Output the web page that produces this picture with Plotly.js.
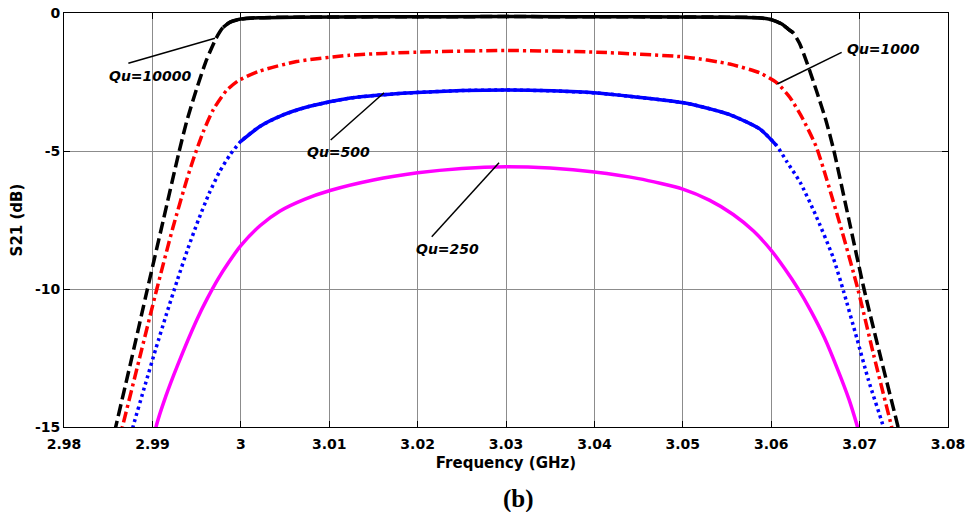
<!DOCTYPE html>
<html>
<head>
<meta charset="utf-8">
<script src="https://cdn.plot.ly/plotly-3.0.1.min.js"></script>
<style>html,body{margin:0;padding:0;background:#fff;}#chart{width:968px;height:512px;}</style>
</head>
<body>
<div id="chart"></div>
<script>
// ---- data ----
const xTickVals = [2.98, 2.99, 3.00, 3.01, 3.02, 3.03, 3.04, 3.05, 3.06, 3.07, 3.08];
const xTickText = ["2.98", "2.99", "3", "3.01", "3.02", "3.03", "3.04", "3.05", "3.06", "3.07", "3.08"];
const yTickVals = [-15, -10, -5, 0];
const yTickText = ["-15", "-10", "-5", "0"];

const qu10000X = [2.9853, 2.98585, 2.9877, 2.9894, 2.9912, 2.9930, 2.9939, 2.9950, 2.9961, 2.9972, 2.9980, 2.9988, 3.0000, 3.0020, 3.0060, 3.0150, 3.0300, 3.0450, 3.0550, 3.0585, 3.0600, 3.0612, 3.0620, 3.0625, 3.0632, 3.0641, 3.0651, 3.0662, 3.0671, 3.0688, 3.0705, 3.0724, 3.07435, 3.0749];
const qu10000Y = [-15.8, -15.0, -12.45, -10.05, -7.55, -5.05, -3.9, -2.75, -1.72, -0.92, -0.52, -0.33, -0.22, -0.17, -0.15, -0.14, -0.13, -0.14, -0.15, -0.17, -0.24, -0.40, -0.60, -0.72, -1.1, -1.85, -2.8, -3.9, -5.0, -7.5, -10.0, -12.5, -15.0, -15.8];

const qu1000X = [2.9861, 2.9866, 2.98855, 2.9905, 2.9923, 2.99388, 2.99463, 2.99576, 2.99689, 2.9984, 2.99972, 3.00217, 3.00632, 3.0123, 3.0199, 3.0301, 3.0403, 3.0504, 3.0553, 3.0587, 3.0606, 3.0621, 3.0636, 3.0651, 3.0663, 3.0680, 3.0698, 3.0716, 3.07363, 3.0741];
const qu1000Y = [-15.6, -15.0, -12.5, -10.0, -7.8, -6.05, -5.3, -4.3, -3.5, -2.8, -2.45, -2.1, -1.76, -1.53, -1.42, -1.36, -1.42, -1.6, -1.85, -2.17, -2.52, -3.05, -3.85, -4.85, -6.05, -7.9, -10.0, -12.4, -15.0, -15.6];

const qu500X = [2.9874, 2.98784, 2.9892, 2.9904, 2.9916, 2.9928, 2.9940, 2.9952, 2.9964, 2.9976, 2.9988, 3.0000, 3.0022, 3.0048, 3.0078, 3.0124, 3.0161, 3.0199, 3.0250, 3.0301, 3.0352, 3.0403, 3.0440, 3.0504, 3.0553, 3.0587, 3.0606, 3.0618, 3.0633, 3.0650, 3.0670, 3.0682, 3.0697, 3.0710, 3.0726, 3.0731];
const qu500Y = [-15.5, -14.95, -13.45, -12.15, -10.9, -9.7, -8.55, -7.5, -6.55, -5.75, -5.13, -4.65, -4.1, -3.69, -3.38, -3.08, -2.96, -2.88, -2.81, -2.79, -2.82, -2.9, -3.02, -3.27, -3.68, -4.2, -4.8, -5.4, -6.15, -7.3, -8.85, -10.1, -11.8, -13.3, -14.9, -15.5];

const qu250X = [2.9902, 2.99041, 2.9915, 2.9928, 2.9950, 2.9962, 2.9974, 2.9986, 3.0000, 3.0022, 3.0044, 3.0072, 3.0101, 3.0150, 3.0200, 3.0250, 3.0300, 3.0350, 3.0400, 3.0450, 3.0500, 3.0530, 3.0557, 3.0580, 3.0600, 3.0615, 3.0630, 3.0645, 3.0660, 3.0675, 3.0688, 3.0697, 3.0701];
const qu250Y = [-15.4, -15.0, -13.9, -12.8, -11.13, -10.35, -9.65, -9.05, -8.43, -7.7, -7.18, -6.75, -6.43, -6.05, -5.79, -5.63, -5.57, -5.62, -5.76, -6.0, -6.38, -6.78, -7.3, -7.9, -8.6, -9.25, -9.97, -10.8, -11.75, -12.9, -14.0, -14.93, -15.4];

const seriesNames = ["Qu=10000", "Qu=1000", "Qu=500", "Qu=250"];

// ---- styling ----
const series = [
  {x: qu10000X, y: qu10000Y, color: "#000000", width: 3.5, dash: "12px,5px", solidAbove: -0.9},
  {x: qu1000X,  y: qu1000Y,  color: "#ff0000", width: 3.5, dash: "11px,4px,3px,4px", solidAbove: null},
  {x: qu500X,   y: qu500Y,   color: "#0000ff", width: 3.5, dash: "3px,3.5px", solidAbove: -5.0},
  {x: qu250X,   y: qu250Y,   color: "#ff00ff", width: 3.5, dash: "solid", solidAbove: null}
];

const traces = [];
series.forEach((s, i) => {
  traces.push({
    type: "scatter", mode: "lines", name: seriesNames[i], x: s.x, y: s.y,
    line: {color: s.color, width: s.width, dash: s.dash, shape: "spline", smoothing: 0.6},
    hoverinfo: "skip", showlegend: false
  });
  if (s.solidAbove !== null) {
    traces.push({
      type: "scatter", mode: "lines", name: seriesNames[i] + " core",
      x: s.x, y: s.y.map(v => (v >= s.solidAbove ? v : null)),
      line: {color: s.color, width: s.width, dash: "solid", shape: "spline", smoothing: 0.6},
      connectgaps: false, hoverinfo: "skip", showlegend: false
    });
  }
});

// annotation leader lines [tailX, tailY, headX, headY] and label positions
const labelPos = [[2.98973, -2.28], [3.07268, -1.32], [3.01103, -5.02], [3.02340, -8.56]];
const leaders = [
  [2.98728, -1.823, 2.99708, -0.917],
  [3.06797, -1.424, 3.06069, -2.572],
  [3.01017, -4.601, 3.01620, -2.888],
  [3.02160, -8.105, 3.02921, -5.424]
];

const annFont = {family: "DejaVu Sans", size: 14, color: "#000"};
const annotations = seriesNames.map((n, i) => ({
  x: labelPos[i][0], y: labelPos[i][1], xref: "x", yref: "y",
  text: "<b><i>" + n + "</i></b>", showarrow: false, font: annFont,
  xanchor: "center", yanchor: "middle"
}));
annotations.push({
  x: 0.5136, y: -0.174, xref: "paper", yref: "paper", text: "<b>(b)</b>",
  showarrow: false, xanchor: "center", yanchor: "middle",
  font: {family: "Liberation Serif", size: 25, color: "#000"}
});

const shapes = leaders.map(l => ({
  type: "line", xref: "x", yref: "y", x0: l[0], y0: l[1], x1: l[2], y1: l[3],
  line: {color: "#000", width: 1.5}
}));

const bold = arr => arr.map(t => "<b>" + t + "</b>");
const tickFont = {family: "DejaVu Sans", size: 14, color: "#000"};
const titleFont = {family: "DejaVu Sans", size: 15, color: "#000"};

const layout = {
  width: 968, height: 512,
  margin: {l: 64, r: 20, t: 13, b: 85},
  paper_bgcolor: "#fff", plot_bgcolor: "#fff",
  xaxis: {
    range: [2.98, 3.08], tickmode: "array", tickvals: xTickVals, ticktext: bold(xTickText),
    showgrid: true, gridcolor: "#8c8c8c", gridwidth: 1, zeroline: false,
    showline: true, linecolor: "#000", linewidth: 1, mirror: "ticks",
    ticks: "inside", ticklen: 6, tickcolor: "#000",
    tickfont: tickFont, ticklabelstandoff: 4,
    title: {text: "<b>Frequency (GHz)</b>", font: titleFont, standoff: 6}
  },
  yaxis: {
    range: [-15, 0], tickmode: "array", tickvals: yTickVals, ticktext: bold(yTickText),
    showgrid: true, gridcolor: "#8c8c8c", gridwidth: 1, zeroline: false,
    showline: true, linecolor: "#000", linewidth: 1, mirror: "ticks",
    ticks: "inside", ticklen: 6, tickcolor: "#000",
    tickfont: tickFont,
    title: {text: "<b>S21 (dB)</b>", font: titleFont, standoff: 8}
  },
  annotations: annotations,
  shapes: shapes,
  showlegend: false
};

Plotly.newPlot("chart", traces, layout, {displayModeBar: false, staticPlot: true});
</script>
</body>
</html>
